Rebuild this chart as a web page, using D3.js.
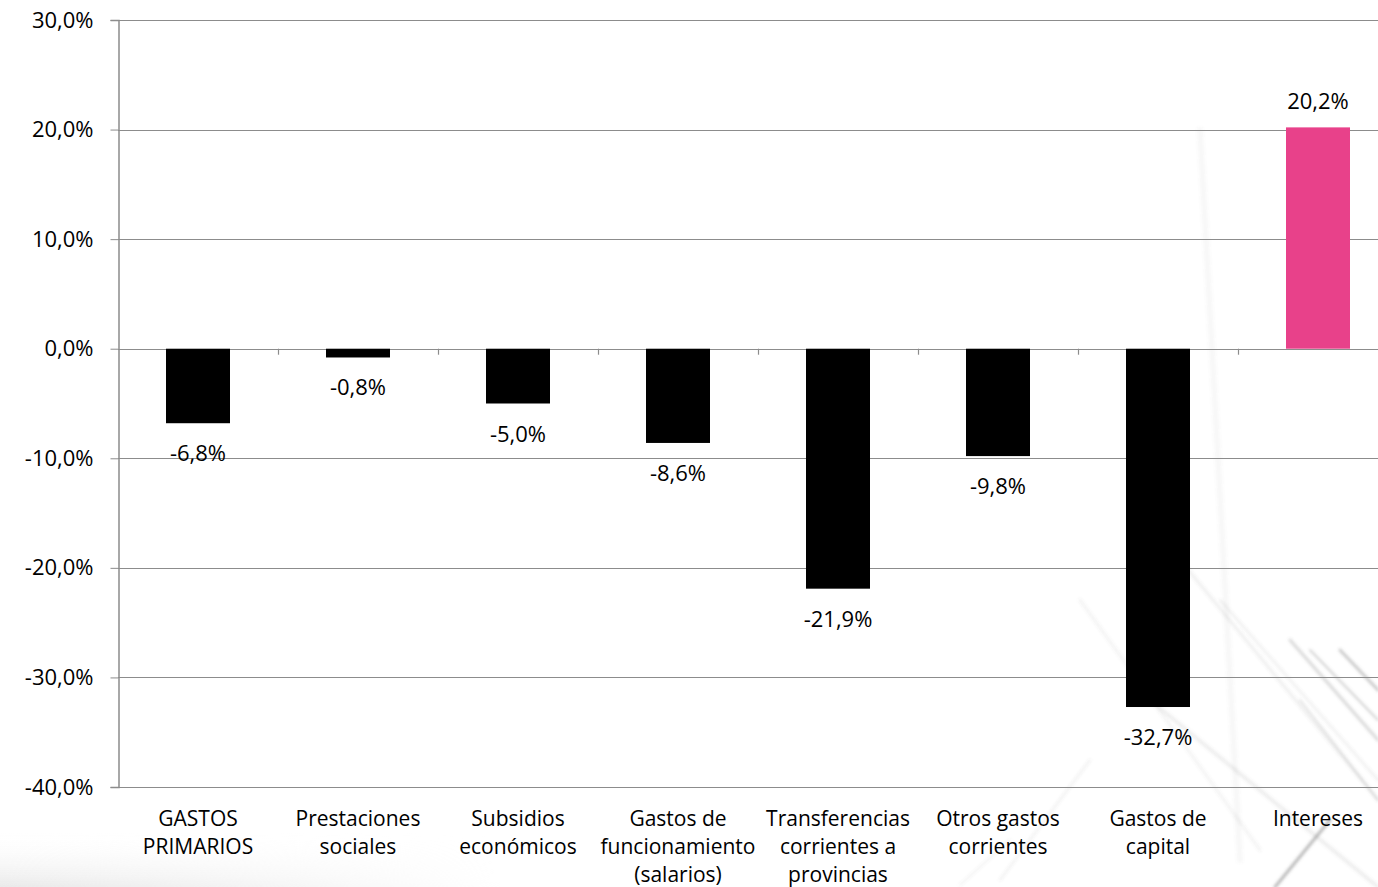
<!DOCTYPE html>
<html>
<head>
<meta charset="utf-8">
<script src="https://cdn.jsdelivr.net/npm/d3@7"></script>
<style>
  html, body { margin: 0; padding: 0; background: #ffffff; }
  svg { display: block; }
  text { font-family: "Open Sans", "DejaVu Sans", sans-serif; fill: #000; }
</style>
</head>
<body>
<svg id="chart" width="1378" height="887"></svg>
<script>
const categories = [
  ["GASTOS", "PRIMARIOS"],
  ["Prestaciones", "sociales"],
  ["Subsidios", "económicos"],
  ["Gastos de", "funcionamiento", "(salarios)"],
  ["Transferencias", "corrientes a", "provincias"],
  ["Otros gastos", "corrientes"],
  ["Gastos de", "capital"],
  ["Intereses"]
];
const values = [-6.8, -0.8, -5.0, -8.6, -21.9, -9.8, -32.7, 20.2];
const yTicks = [-40, -30, -20, -10, 0, 10, 20, 30];
const barColors = ["#000000", "#000000", "#000000", "#000000", "#000000", "#000000", "#000000", "#E8418A"];

(function () {
const mLeft = 118, mTop = 20, mBottom = 787, rightExtent = 1398;
const svg = d3.select("#chart");

// subtle background texture (decorative)
const defs = svg.append("defs");
const bgGrad = defs.append("linearGradient").attr("id", "bgfade").attr("x1", 0).attr("y1", 0).attr("x2", 0).attr("y2", 1);
bgGrad.append("stop").attr("offset", "0%").attr("stop-color", "#ffffff").attr("stop-opacity", 0);
bgGrad.append("stop").attr("offset", "100%").attr("stop-color", "#d8d8d8").attr("stop-opacity", 0.55);
const hMask = defs.append("linearGradient").attr("id", "hfade").attr("x1", 0).attr("y1", 0).attr("x2", 1).attr("y2", 0);
hMask.append("stop").attr("offset", "0%").attr("stop-color", "#fff");
hMask.append("stop").attr("offset", "100%").attr("stop-color", "#000");
defs.append("mask").attr("id", "hmask").append("rect").attr("x", 0).attr("y", 820).attr("width", 500).attr("height", 67).attr("fill", "url(#hfade)");
svg.append("rect").attr("x", 0).attr("y", 830).attr("width", 500).attr("height", 57).attr("fill", "url(#bgfade)").attr("mask", "url(#hmask)");

defs.append("filter").attr("id", "blur").append("feGaussianBlur").attr("stdDeviation", 1.6);
const streaks = svg.append("g").attr("stroke-linecap", "round").attr("filter", "url(#blur)");
const streakDefs = [
  [1180, 560, 1378, 800, 0.10, 3], [1220, 600, 1378, 780, 0.12, 2],
  [1290, 640, 1378, 740, 0.25, 3], [1310, 650, 1378, 720, 0.30, 2],
  [1150, 700, 1378, 887, 0.10, 4], [1000, 880, 1090, 760, 0.10, 2],
  [960, 885, 1010, 840, 0.08, 2], [1275, 887, 1330, 820, 0.45, 3],
  [1300, 700, 1378, 800, 0.20, 2], [1080, 600, 1260, 850, 0.07, 3],
  [1340, 650, 1378, 690, 0.35, 3], [1200, 130, 1240, 860, 0.05, 6]
];
streakDefs.forEach(s => {
  streaks.append("line").attr("x1", s[0]).attr("y1", s[1]).attr("x2", s[2]).attr("y2", s[3])
    .attr("stroke", "#666").attr("stroke-opacity", s[4]).attr("stroke-width", s[5]);
});

const y = d3.scaleLinear().domain([-40, 30]).range([mBottom, mTop]);
const x = d3.scaleBand().domain(d3.range(categories.length)).range([mLeft, rightExtent]).padding(0);
const barW = x.bandwidth() * 0.4;
const fmt = d => d3.format(".1f")(d).replace(".", ",").replace("−", "-") + "%";

// gridlines
svg.append("g").selectAll("line").data(yTicks).join("line")
  .attr("x1", mLeft).attr("x2", rightExtent)
  .attr("y1", d => Math.round(y(d)) + 0.5).attr("y2", d => Math.round(y(d)) + 0.5)
  .attr("stroke", "#8c8c8c").attr("stroke-width", 1.2);

// y axis
const yAxis = d3.axisLeft(y).tickValues(yTicks).tickSize(8).tickPadding(17).tickFormat(fmt);
const gy = svg.append("g").attr("transform", `translate(${mLeft + 0.5},0)`).call(yAxis);
gy.select(".domain").attr("stroke", "#8c8c8c").attr("stroke-width", 1.5);
gy.selectAll(".tick line").attr("stroke", "#8c8c8c");
gy.selectAll(".tick text").attr("font-size", 22).attr("font-family", "'Open Sans', sans-serif").attr("fill", "#000");

// x axis ticks at zero line (category boundaries)
const boundaries = d3.range(1, categories.length).map(i => x(i));
svg.append("g").selectAll("line").data(boundaries).join("line")
  .attr("x1", d => d + 0.5).attr("x2", d => d + 0.5)
  .attr("y1", y(0)).attr("y2", y(0) + 6)
  .attr("stroke", "#8c8c8c").attr("stroke-width", 1.2);

// bars
svg.append("g").selectAll("rect").data(values).join("rect")
  .attr("x", (d, i) => x(i) + (x.bandwidth() - barW) / 2)
  .attr("width", barW)
  .attr("y", d => y(Math.max(0, d)))
  .attr("height", d => Math.abs(y(d) - y(0)))
  .attr("fill", (d, i) => barColors[i]);

// data labels
svg.append("g").selectAll("text").data(values).join("text")
  .attr("x", (d, i) => x(i) + x.bandwidth() / 2)
  .attr("y", d => d < 0 ? y(d) + 38 : y(d) - 18)
  .attr("text-anchor", "middle")
  .attr("font-size", 22)
  .text(fmt);

// category labels
const catG = svg.append("g");
categories.forEach((lines, i) => {
  const t = catG.append("text")
    .attr("x", x(i) + x.bandwidth() / 2)
    .attr("y", 826)
    .attr("text-anchor", "middle")
    .attr("font-size", 21);
  lines.forEach((ln, j) => {
    t.append("tspan").attr("x", x(i) + x.bandwidth() / 2).attr("dy", j === 0 ? 0 : 28).text(ln);
  });
});
})();
</script>
</body>
</html>
